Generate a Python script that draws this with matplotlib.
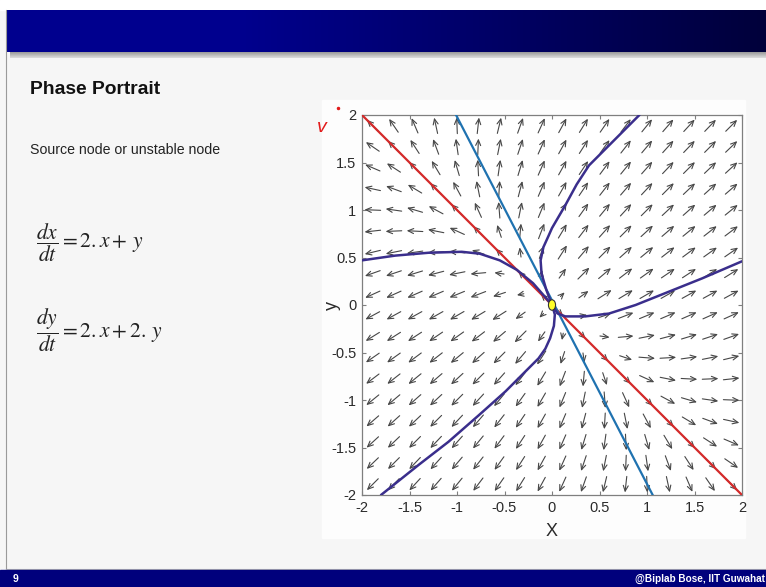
import numpy as np
import matplotlib.pyplot as plt
from matplotlib.patches import Rectangle, Ellipse

plt.rcParams["font.family"] = ["Liberation Sans", "DejaVu Sans"]
plt.rcParams["axes.unicode_minus"] = False
plt.rcParams["mathtext.fontset"] = "stix"

W, H = 766, 587

# linear system  [dx/dt, dy/dt] = coef @ [x, y]
coef = np.array([[2.0, 1.0],
                 [1.0, 2.0]])

ticks = [-2, -1.5, -1, -0.5, 0, 0.5, 1, 1.5, 2]
tick_labels = ["-2", "-1.5", "-1", "-0.5", "0", "0.5", "1", "1.5", "2"]

# straight guide lines (end points)
red_x = [-2.0, 2.0]
red_y = [2.0, -2.0]
blue_x = [-1.01, 1.06]
blue_y = [2.0, -2.0]

# trajectories leaving the node
traj_up_x = [0.0, -0.06, -0.11, -0.12, -0.09, -0.04, 0.0, 0.14, 0.26, 0.39, 0.60, 0.81, 0.92]
traj_up_y = [0.0, 0.16, 0.33, 0.47, 0.61, 0.72, 0.81, 1.05, 1.27, 1.47, 1.68, 1.89, 2.0]

traj_left_x = [0.0, -0.06, -0.20, -0.37, -0.55, -0.76, -0.95, -1.30, -1.65, -2.0]
traj_left_y = [0.0, 0.07, 0.23, 0.37, 0.47, 0.54, 0.56, 0.55, 0.52, 0.47]

traj_right_x = [0.0, 0.06, 0.14, 0.35, 0.60, 0.88, 1.23, 1.58, 2.0]
traj_right_y = [0.0, -0.09, -0.12, -0.12, -0.09, 0.0, 0.14, 0.28, 0.46]

traj_down_x = [0.0, 0.03, 0.02, -0.02, -0.07, -0.14, -0.25, -0.49, -0.77, -1.09, -1.40, -1.80]
traj_down_y = [0.0, -0.10, -0.22, -0.35, -0.46, -0.56, -0.67, -0.91, -1.16, -1.44, -1.68, -2.0]

fixed_point = (0.0, 0.0)

fig = plt.figure(figsize=(W / 100, H / 100), dpi=100)
fig.patch.set_facecolor("#f6f6f6")

# slide decoration in pixel coordinates
bg = fig.add_axes([0, 0, 1, 1])
bg.set_xlim(0, W)
bg.set_ylim(H, 0)
bg.axis("off")

t = np.linspace(0, 1, 400)
blue_ch = np.where(t < 0.3, 0.56, 0.56 - (t - 0.3) / 0.7 * 0.33)
grad = np.zeros((1, t.size, 3))
grad[0, :, 2] = blue_ch
bg.imshow(grad, extent=[6, W, 52, 10], aspect="auto", zorder=1)
shadow = np.linspace(0.62, 0.85, 6)[:, None] * np.ones((1, 10))
bg.imshow(np.dstack([shadow] * 3), extent=[10, W, 58, 52], aspect="auto", zorder=1)
bg.add_patch(Rectangle((0, 0), W, 10, color="white", zorder=0.5))
bg.plot([6, 6], [10, 569], color="#9a9a9a", lw=0.8, zorder=1)
bg.plot([6, W], [568.5, 568.5], color="#b5b5b5", lw=0.8, zorder=1)
bg.add_patch(Rectangle((0, 570), W, H - 570, color="#00007c", zorder=1))
bg.text(13, 579, "9", color="white", fontsize=7.5, fontweight="bold",
        va="center", ha="left", zorder=2)
bg.text(765, 579, "@Biplab Bose, IIT Guwahat", color="white", fontsize=7.2,
        fontweight="bold", va="center", ha="right", zorder=2)

# white figure panel behind the phase plane
bg.add_patch(Rectangle((322, 100), 423, 438, color="#fdfdfd", zorder=0.8))

bg.text(30, 90, "Phase Portrait", fontsize=13.9, fontweight="bold",
        va="center", ha="left", color="#111111")
bg.text(30, 150, "Source node or unstable node", fontsize=10.2,
        va="center", ha="left", color="#222222")
bg.text(36, 243, r"$\dfrac{dx}{dt}=2.x+\,y$", fontsize=15.5,
        va="center", ha="left", color="#222222")
bg.text(36, 330, r"$\dfrac{dy}{dt}=2.x+2.\,y$", fontsize=15.5,
        va="center", ha="left", color="#222222")

# pen marks
bg.text(322, 127, "v", color="#e21b1b", fontsize=14, style="italic",
        va="center", ha="center")
bg.plot([338], [108], "o", color="#e21b1b", ms=1.5)

# phase plane
ax = fig.add_axes([362 / W, (H - 495) / H, 380 / W, 380 / H])
ax.set_facecolor("white")
ax.set_xlim(-2, 2)
ax.set_ylim(-2, 2)

edges = np.linspace(-2, 2, 19)
centers = (edges[:-1] + edges[1:]) / 2
for gx in centers:
    for gy in centers:
        u = coef[0, 0] * gx + coef[0, 1] * gy
        v = coef[1, 0] * gx + coef[1, 1] * gy
        mag = np.hypot(u, v)
        length = 0.17 * min(1.0, mag / 1.3)
        dx, dy = u / mag * length, v / mag * length
        ax.annotate("", xy=(gx + dx / 2, gy + dy / 2),
                    xytext=(gx - dx / 2, gy - dy / 2),
                    arrowprops=dict(arrowstyle="->,head_length=0.4,head_width=0.18",
                                    color="#474747", lw=0.8, shrinkA=0, shrinkB=0,
                                    mutation_scale=10))

ax.plot(red_x, red_y, color="#d42a2a", lw=1.6, zorder=4)
ax.plot(blue_x, blue_y, color="#1f72b0", lw=1.6, zorder=4)

for xs, ys in [(traj_up_x, traj_up_y), (traj_left_x, traj_left_y),
               (traj_right_x, traj_right_y), (traj_down_x, traj_down_y)]:
    ax.plot(xs, ys, color="#3a2e8c", lw=1.8, zorder=5, solid_capstyle="round")

ax.add_patch(Ellipse(fixed_point, 0.075, 0.11, facecolor="#ffff2a",
                     edgecolor="#333333", lw=0.8, zorder=6))

ax.set_xticks(ticks)
ax.set_xticklabels(tick_labels)
ax.set_yticks(ticks)
ax.set_yticklabels(tick_labels)
ax.tick_params(direction="in", length=3, width=0.8, top=True, right=True,
               labelsize=10.5, colors="#7f7f7f", labelcolor="#2a2a2a", pad=4)
for sp in ax.spines.values():
    sp.set_color("#7f7f7f")
    sp.set_linewidth(0.9)

ax.set_xlabel("X", fontsize=13, color="#2a2a2a")
ax.set_ylabel("y", fontsize=13, color="#2a2a2a")
ax.xaxis.set_label_coords(0.5, -0.075)
ax.yaxis.set_label_coords(-0.055, 0.5)

fig.savefig("out.png", dpi=100, facecolor=fig.get_facecolor())
